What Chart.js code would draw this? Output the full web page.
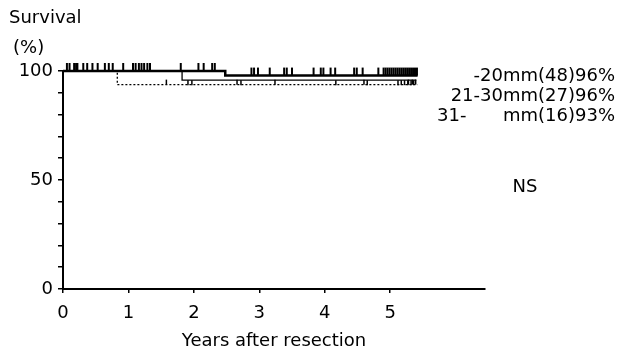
<!DOCTYPE html>
<html>
<head>
<meta charset="utf-8">
<script src="https://cdn.jsdelivr.net/npm/chart.js@4"></script>
<style>
  html, body { margin: 0; padding: 0; background: #fff; }
  #wrap { width: 619px; height: 349px; position: relative; }
</style>
</head>
<body>
<div id="wrap"><canvas id="km"></canvas></div>
<script>
// Kaplan-Meier steps (years, % surviving)
const timesA = [0, 2.48, 5.42];
const survA  = [100, 97.9, 97.9];
const timesB = [0, 1.82, 5.40];
const survB  = [100, 95.8, 95.8];
const timesC = [0, 0.83, 5.42];
const survC  = [100, 93.75, 93.75];

// censored cases (tick marks)
const censorA = [0.06, 0.1, 0.17, 0.2, 0.22, 0.31, 0.37, 0.45, 0.53, 0.64, 0.7, 0.76, 0.92,
  1.07, 1.11, 1.16, 1.2, 1.24, 1.29, 1.33, 1.8, 2.07, 2.15, 2.28, 2.32,
  2.88, 2.92, 2.98, 3.16, 3.38, 3.42, 3.5, 3.83, 3.94, 3.98, 4.09, 4.16, 4.45, 4.49, 4.58, 4.82,
  4.9, 4.93, 4.96, 4.99, 5.02, 5.05, 5.08, 5.11, 5.14, 5.17, 5.2, 5.23, 5.26, 5.29, 5.32, 5.35, 5.38, 5.41];
const censorB = [1.91, 1.97, 2.72, 4.17, 4.65, 5.12, 5.17, 5.22, 5.27, 5.32, 5.36];
const censorC = [1.58, 2.66, 3.24, 4.6, 5.28, 5.34, 5.39];

const groupNames = ['-20mm', '21-30mm', '31-'];
const groupTail  = ['(48)96%', '(27)96%', 'mm(16)93%'];

const xTicks = [0, 1, 2, 3, 4, 5];
const FONT = '"DejaVu Sans", sans-serif';
const FS = 18;

function pts(t, s) { return t.map((v, i) => ({ x: v, y: s[i] })); }
function survAt(t, s, x) {
  let y = s[0];
  for (let i = 0; i < t.length; i++) if (t[i] <= x) y = s[i];
  return y;
}

const censorPlugin = {
  id: 'censor',
  afterDatasetsDraw(chart) {
    const ctx = chart.ctx, xs = chart.scales.x, ys = chart.scales.y;
    const sets = [
      { t: timesA, s: survA, c: censorA, len: -8, w: 2 },
      { t: timesB, s: survB, c: censorB, len: 5, w: 1.5 },
      { t: timesC, s: survC, c: censorC, len: -5, w: 1.5 }
    ];
    ctx.save();
    ctx.strokeStyle = '#000';
    sets.forEach(g => {
      ctx.lineWidth = g.w;
      g.c.forEach(v => {
        const px = xs.getPixelForValue(v);
        const py = ys.getPixelForValue(survAt(g.t, g.s, v));
        ctx.beginPath();
        ctx.moveTo(px, py);
        ctx.lineTo(px, py + g.len);
        ctx.stroke();
      });
    });
    ctx.restore();
  }
};

const textPlugin = {
  id: 'texts',
  afterDraw(chart) {
    const ctx = chart.ctx;
    ctx.save();
    ctx.fillStyle = '#000';
    ctx.font = FS + 'px ' + FONT;
    ctx.textBaseline = 'middle';
    ctx.textAlign = 'left';
    ctx.fillText('Survival', 9, 18);
    ctx.fillText('(%)', 13, 48);
    const rows = [76, 96, 116];
    rows.forEach((y, i) => {
      ctx.textAlign = 'right';
      const w = ctx.measureText(groupTail[i]).width;
      ctx.fillText(groupTail[i], 615, y);
      if (i < 2) {
        ctx.fillText(groupNames[i], 615 - w, y);
      } else {
        ctx.textAlign = 'left';
        ctx.fillText(groupNames[i], 437, y);
      }
    });
    ctx.textAlign = 'center';
    ctx.fillText('NS', 525, 187);
    ctx.restore();
  }
};

new Chart(document.getElementById('km'), {
  type: 'scatter',
  data: {
    datasets: [
      { data: pts(timesA, survA), showLine: true, stepped: 'before', borderColor: '#000', borderWidth: 2.5, pointRadius: 0, clip: false },
      { data: pts(timesB, survB), showLine: true, stepped: 'before', borderColor: '#000', borderWidth: 1.3, pointRadius: 0, clip: false },
      { data: pts(timesC, survC), showLine: true, stepped: 'before', borderColor: '#000', borderWidth: 1.3, borderDash: [2, 2], pointRadius: 0, clip: false }
    ]
  },
  options: {
    responsive: true,
    maintainAspectRatio: false,
    animation: false,
    layout: { padding: { left: 0, right: 134, top: 71, bottom: 0 } },
    plugins: { legend: { display: false }, tooltip: { enabled: false } },
    scales: {
      x: {
        type: 'linear', min: 0, max: 6.45,
        afterBuildTicks: axis => { axis.ticks = xTicks.map(v => ({ value: v })); },
        afterFit: axis => { axis.height = 60; },
        grid: { drawOnChartArea: false, drawTicks: true, tickLength: 4, color: '#000', lineWidth: 1.5 },
        border: { display: true, color: '#000', width: 2 },
        ticks: { color: '#000', font: { family: FONT, size: FS }, padding: 10, maxRotation: 0, autoSkip: false },
        title: { display: true, text: 'Years after resection', color: '#000', font: { family: FONT, size: FS }, padding: { top: 8, bottom: -3 } }
      },
      y: {
        min: 0, max: 100,
        afterFit: axis => { axis.width = 63; },
        grid: { drawOnChartArea: false, drawTicks: true, tickLength: 5, color: '#000', lineWidth: 1.5 },
        border: { display: true, color: '#000', width: 2 },
        ticks: {
          stepSize: 10, color: '#000', font: { family: FONT, size: FS }, padding: 5, autoSkip: false,
          callback: v => (v % 50 === 0 ? String(v) : '')
        }
      }
    }
  },
  plugins: [censorPlugin, textPlugin]
});
</script>
</body>
</html>
